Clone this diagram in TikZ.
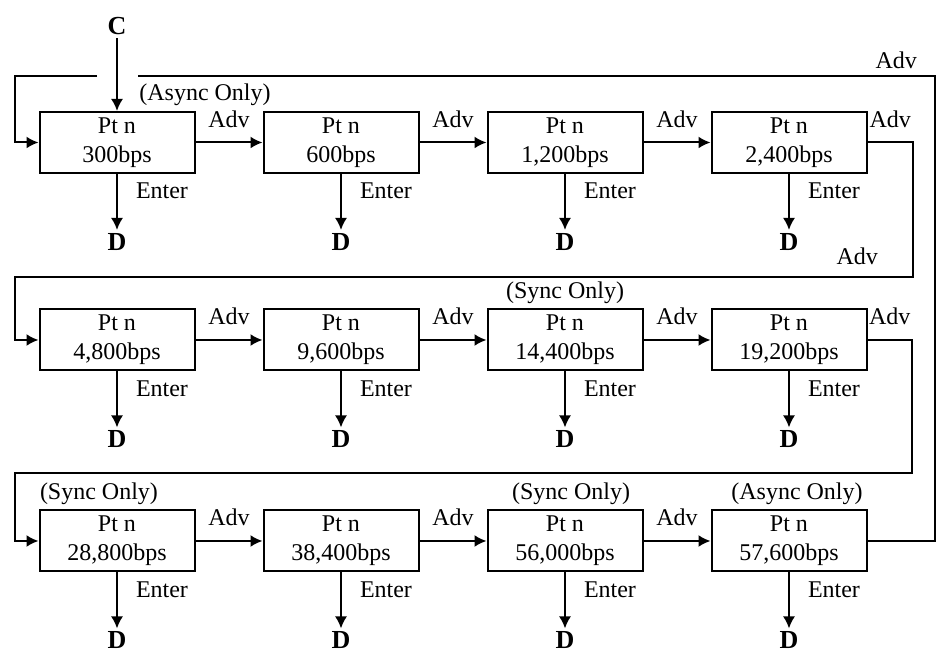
\documentclass[tikz,border=0pt]{standalone}
\usepackage{fontspec}
\setmainfont{Liberation Serif}
\usetikzlibrary{arrows.meta,positioning,calc}
\tikzset{
block/.style = {draw, fill=white, rectangle, minimum height=30.5pt, minimum width=77.5pt, align=center, inner sep=1pt},
tmp/.style   = {coordinate},
term/.style  = {font=\fontsize{13}{15}\selectfont\bfseries, inner sep=1pt},
enter/.style = {pos=0.3, right=8pt, inner sep=1pt},
adv/.style   = {above=5pt, inner sep=2pt},
only/.style  = {above, inner sep=2pt}
}

\begin{document}
\begin{tikzpicture}[x=0.5pt, y=-0.5pt, node distance=112pt, >={Latex[length=6pt,width=6pt]}, line width=1pt, font=\fontsize{12}{14.5}\selectfont]
  \useasboundingbox (0,0) rectangle (939,656);

  % row one
  \node [block] at (117,142.5)                          (p300)   {Pt n\\300bps};
  \node [block, right of=p300]                          (p600)   {Pt n\\600bps};
  \node [block, right of=p600]                          (p1200)  {Pt n\\1,200bps};
  \node [block, right of=p1200]                         (p2400)  {Pt n\\2,400bps};
  % row two
  \node [block, node distance=98.75pt, below of=p300]   (p4800)  {Pt n\\4,800bps};
  \node [block, right of=p4800]                         (p9600)  {Pt n\\9,600bps};
  \node [block, right of=p9600]                         (p14400) {Pt n\\14,400bps};
  \node [block, right of=p14400]                        (p19200) {Pt n\\19,200bps};
  % row three
  \node [block, node distance=100.5pt, below of=p4800]  (p28800) {Pt n\\28,800bps};
  \node [block, right of=p28800]                        (p38400) {Pt n\\38,400bps};
  \node [block, right of=p38400]                        (p56000) {Pt n\\56,000bps};
  \node [block, right of=p56000]                        (p57600) {Pt n\\57,600bps};

  \node [term, node distance=58pt, above of=p300]       (cin)    {C};
  \node [term, below=28pt of p300]                      (d300)   {D};
  \node [term, below=28pt of p600]                      (d600)   {D};
  \node [term, below=28pt of p1200]                     (d1200)  {D};
  \node [term, below=28pt of p2400]                     (d2400)  {D};
  \node [term, below=28pt of p4800]                     (d4800)  {D};
  \node [term, below=28pt of p9600]                     (d9600)  {D};
  \node [term, below=28pt of p14400]                    (d14400) {D};
  \node [term, below=28pt of p19200]                    (d19200) {D};
  \node [term, below=28pt of p28800]                    (d28800) {D};
  \node [term, below=28pt of p38400]                    (d38400) {D};
  \node [term, below=28pt of p56000]                    (d56000) {D};
  \node [term, below=28pt of p57600]                    (d57600) {D};

  \node [only, xshift=44pt] at (p300.north)             (o300)   {(Async Only)};
  \node [only] at (p14400.north)                        (o14400) {(Sync Only)};
  \node [only, xshift=-9pt] at (p28800.north)           (o28800) {(Sync Only)};
  \node [only, xshift=3pt] at (p56000.north)            (o56000) {(Sync Only)};
  \node [only, xshift=4pt] at (p57600.north)            (o57600) {(Async Only)};

  % corners of the return lines
  \node [tmp, node distance=51pt, left of=p300]         (l1)     {};
  \node [tmp, node distance=33.25pt, above of=l1]       (t11)    {};
  \node [tmp, node distance=61.5pt, right of=t11]       (t9)     {};
  \node [tmp, node distance=41pt, right of=t11]         (t10)    {};
  \node [tmp, node distance=62pt, right of=p2400]       (t1)     {};
  \node [tmp, node distance=67.25pt, below of=t1]       (t2)     {};
  \node [tmp, node distance=51pt, left of=p4800]        (l2)     {};
  \node [tmp, node distance=31.5pt, above of=l2]        (t3)     {};
  \node [tmp, node distance=61.5pt, right of=p19200]    (t4)     {};
  \node [tmp, node distance=66.5pt, below of=t4]        (t5)     {};
  \node [tmp, node distance=51pt, left of=p28800]       (l3)     {};
  \node [tmp, node distance=34pt, above of=l3]          (t6)     {};
  \node [tmp, node distance=72.75pt, right of=p57600]   (t7)     {};
  \node [tmp, node distance=232.5pt, above of=t7]       (t8)     {};

  \draw [->] (cin) -- (p300);
  \draw [->] (p300) -- node[adv] {Adv} (p600);
  \draw [->] (p600) -- node[adv] {Adv} (p1200);
  \draw [->] (p1200) -- node[adv] {Adv} (p2400);
  \draw [->] (p4800) -- node[adv] {Adv} (p9600);
  \draw [->] (p9600) -- node[adv] {Adv} (p14400);
  \draw [->] (p14400) -- node[adv] {Adv} (p19200);
  \draw [->] (p28800) -- node[adv] {Adv} (p38400);
  \draw [->] (p38400) -- node[adv] {Adv} (p56000);
  \draw [->] (p56000) -- node[adv] {Adv} (p57600);

  \draw [->] (p2400) -- node[adv] {Adv} (t1) -- (t2) -- node[adv, above=3.5pt, pos=0.062] {Adv} (t3) -- (l2) -- (p4800);
  \draw [->] (p19200) -- node[adv] {Adv} (t4) -- (t5) -- (t6) -- (l3) -- (p28800);
  \draw (p57600) -- (t7) -- (t8) -- node[adv, above=1pt, pos=0.048] {Adv} (t9);
  \draw [->] (t10) -- (t11) -- (l1) -- (p300);

  \draw [->] (p300) -- node[enter] {Enter} (d300);
  \draw [->] (p600) -- node[enter] {Enter} (d600);
  \draw [->] (p1200) -- node[enter] {Enter} (d1200);
  \draw [->] (p2400) -- node[enter] {Enter} (d2400);
  \draw [->] (p4800) -- node[enter] {Enter} (d4800);
  \draw [->] (p9600) -- node[enter] {Enter} (d9600);
  \draw [->] (p14400) -- node[enter] {Enter} (d14400);
  \draw [->] (p19200) -- node[enter] {Enter} (d19200);
  \draw [->] (p28800) -- node[enter] {Enter} (d28800);
  \draw [->] (p38400) -- node[enter] {Enter} (d38400);
  \draw [->] (p56000) -- node[enter] {Enter} (d56000);
  \draw [->] (p57600) -- node[enter] {Enter} (d57600);
\end{tikzpicture}
\end{document}
